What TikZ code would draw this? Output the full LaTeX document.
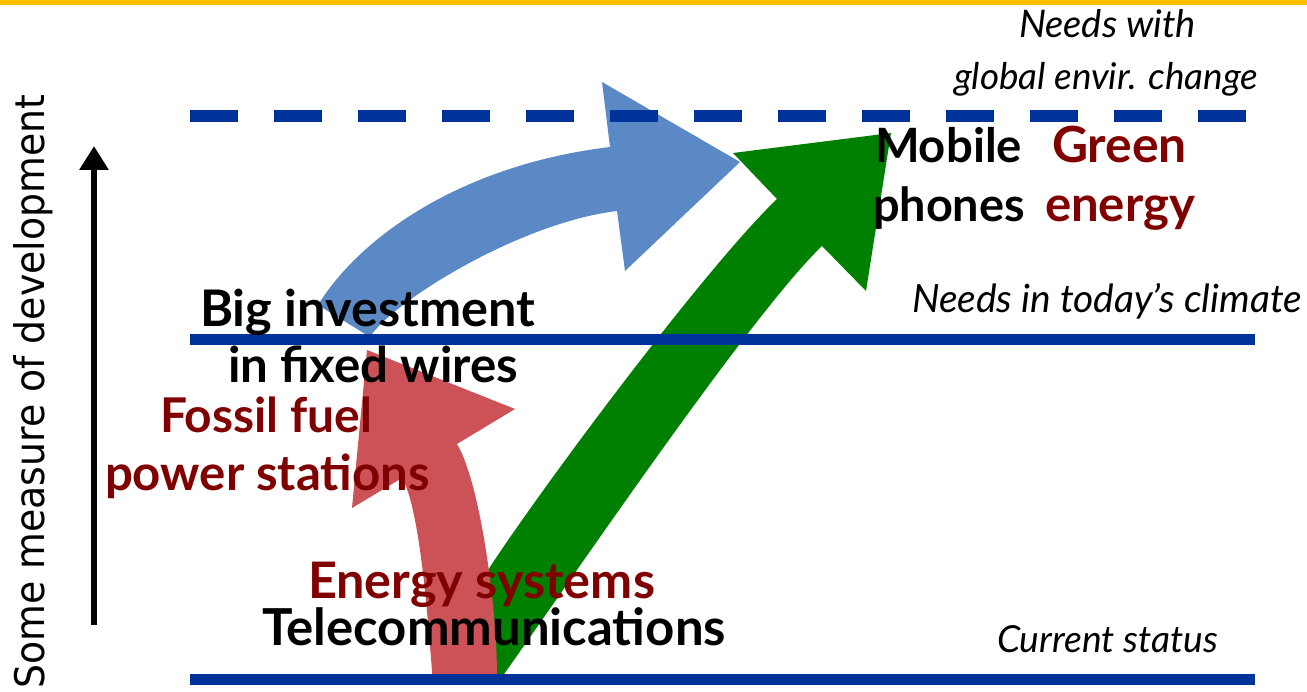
\documentclass[tikz,border=0pt]{standalone}
\usepackage{fontspec}
\setmainfont{Lato}
\newfontfamily\dvsans{DejaVu Sans}
\usepackage{graphicx}
\usetikzlibrary{arrows.meta}
\definecolor{lineblue}{RGB}{0,51,153}
\definecolor{topyellow}{RGB}{255,192,0}
\definecolor{arrblue}{RGB}{91,137,198}
\definecolor{arrred}{RGB}{205,82,87}
\definecolor{arrgreen}{RGB}{0,128,0}
\definecolor{darkred}{RGB}{128,0,0}
\newcommand{\fitw}[2]{\resizebox{#1pt}{!}{#2}}
\begin{document}
\begin{tikzpicture}[x=1pt,y=-1pt,
  lbl/.style={inner sep=0pt,outer sep=0pt,anchor=base west},
  boldlbl/.style={lbl,font=\bfseries\fontsize{40}{48}\selectfont},
  itlbl/.style={lbl,font=\itshape\fontsize{30}{36}\selectfont},
  level/.style={draw=lineblue,line width=11pt},
  axisarrow/.style={line width=6pt,-{Triangle[length=24pt,width=28pt]}},
]
\useasboundingbox (0,0) rectangle (1307,692);
\fill[topyellow] (0,0) rectangle (1307,5);

% blue arrow
\fill[arrblue] (318,305) .. controls (360,237) and (461,165) .. (610,147) -- (602,82) -- (740,162) -- (625,271) -- (617,211) .. controls (518,223) and (391,303) .. (370,337) -- cycle;
% green arrow
\fill[arrgreen] (445,684) -- (488,570) .. controls (540,490) and (705,268) .. (777,199) -- (733,153) -- (891,133) -- (866,291) -- (822,246) .. controls (750,315) and (567,586) .. (497,684) -- cycle;
% red arrow
\fill[arrred] (433,684) .. controls (428,620) and (420,508) .. (402,478) -- (352,508) -- (367,350) -- (515,409) -- (457,444) .. controls (480,482) and (498,610) .. (497,684) -- cycle;

% level lines
\coordinate (midL) at (190,340);
\coordinate (midR) at (1255,340);
\coordinate (botL) at (190,679);
\coordinate (botR) at (1255,679);
\coordinate (topL) at (190,116);
\coordinate (topR) at (1246,116);
\draw[level] (midL) -- (midR);
\draw[level] (botL) -- (botR);
\draw[level,line width=12pt,dash pattern=on 48pt off 36pt] (topL) -- (topR);

% axis arrow
\coordinate (axB) at (94,625);
\coordinate (axT) at (94,146);
\draw[axisarrow] (axB) -- (axT);
\node[inner sep=0pt,anchor=base west,rotate=90,font=\dvsans\fontsize{40}{48}\selectfont] (axl) at (44,689) {\resizebox{594pt}{31pt}{Some measure of development}};

% labels
\node[itlbl] (nw1) at (1019,38) {\fitw{177}{Needs with}};
\node[itlbl] (nw2) at (954,90) {\fitw{304}{global envir. change}};
\node[itlbl] (ntc) at (912,313) {\fitw{390}{Needs in today’s climate}};
\node[itlbl] (cs) at (997,652) {\fitw{221}{Current status}};
\node[boldlbl] (mob) at (875,163) {\fitw{147}{Mobile}};
\node[boldlbl,text=darkred] (grn) at (1052,163) {\fitw{135}{Green}};
\node[boldlbl] (pho) at (873,222) {\fitw{152}{phones}};
\node[boldlbl,text=darkred] (ene) at (1045,222) {\fitw{150}{energy}};
\node[boldlbl] (big) at (200,327) {\fitw{335}{Big investment}};
\node[boldlbl] (fix) at (228,383) {\fitw{290}{in fixed wires}};
\node[boldlbl,text=darkred] (fos) at (160,433) {\fitw{212}{Fossil fuel}};
\node[boldlbl,text=darkred] (pow) at (105,490) {\fitw{325}{power stations}};
\node[boldlbl,text=darkred] (ens) at (308,598) {\fitw{347}{Energy systems}};
\node[boldlbl] (tel) at (262,645) {\fitw{464}{Telecommunications}};
\end{tikzpicture}
\end{document}
